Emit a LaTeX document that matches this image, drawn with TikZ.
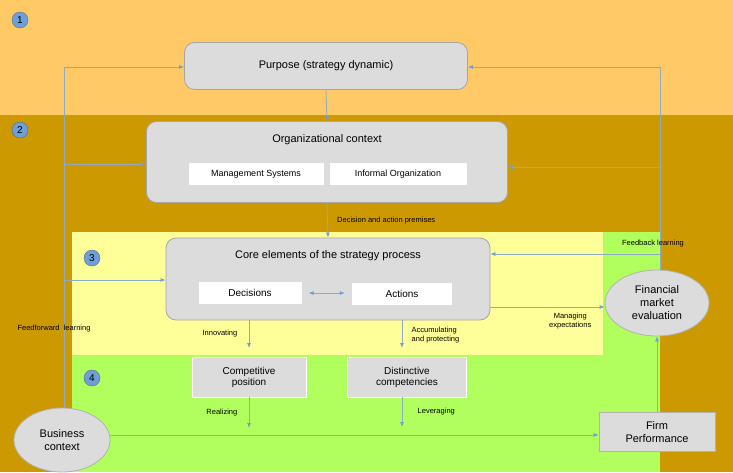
\documentclass[tikz,border=0pt]{standalone}
\usepackage{fontspec}
\setmainfont{Liberation Sans}
\usetikzlibrary{positioning, arrows.meta, shapes.geometric, calc}
\definecolor{bandone}{HTML}{FFCA66}
\definecolor{bandtwo}{HTML}{CC9900}
\definecolor{paleyellow}{HTML}{FFFF99}
\definecolor{lightgreen}{HTML}{B0FF5C}
\definecolor{boxgray}{HTML}{DCDCDC}
\definecolor{linkblue}{HTML}{8FAAC4}
\definecolor{tipblue}{HTML}{6F9FD8}
\begin{document}
\begin{tikzpicture}[x=1pt, y=-1pt,
    link/.style={draw=linkblue, line width=0.8pt, -{Latex[length=5pt, width=4pt, color=tipblue]}},
    plain/.style={draw=linkblue, line width=0.8pt},
    main/.style={draw=gray!70, fill=boxgray, rounded corners=10pt, line width=0.8pt},
    inner/.style={fill=white, minimum height=22pt, font=\fontsize{9}{10}\selectfont},
    flat/.style={fill=boxgray, draw=white, line width=0.8pt, align=center, font=\fontsize{10}{11}\selectfont},
    oval/.style={ellipse, draw=gray!60, fill=boxgray, line width=0.8pt, align=center, font=\fontsize{11}{13}\selectfont},
    lbl/.style={font=\fontsize{7.5}{9}\selectfont, align=left},
    num/.style={circle, inner sep=0pt, minimum size=16pt, fill=tipblue, draw=tipblue!70!black, font=\fontsize{10}{10}\selectfont}
]
    \useasboundingbox (0,0) rectangle (733,472);
    % Bands
    \fill[bandone] (0,0) rectangle (733,115);
    \fill[bandtwo] (0,115) rectangle (733,472);
    \fill[paleyellow] (72,232) rectangle (603,355);
    \fill[lightgreen] (603,232) rectangle (660,355);
    \fill[lightgreen] (72,355) rectangle (660,472);

    % Numbers
    \node[num] (n1) at (20,20) {1};
    \node[num] (n2) at (20,130) {2};
    \node[num] (n3) at (92,258) {3};
    \node[num] (n4) at (92,378) {4};

    % Boxes
    \node[main, minimum width=283pt, minimum height=47pt, font=\fontsize{11}{13}\selectfont] (purpose) at (326,66) {Purpose (strategy dynamic)};
    \node[main, minimum width=361pt, minimum height=81pt] (org) at (327,162) {};
    \node[font=\fontsize{11}{13}\selectfont] at (327,140) {Organizational context};
    \node[inner, minimum width=135pt] (mgmt) at (256,174) {Management Systems};
    \node[inner, minimum width=137pt] (informal) at (398,174) {Informal Organization};

    \node[main, minimum width=324pt, minimum height=82pt] (core) at (328,279) {};
    \node[font=\fontsize{11}{13}\selectfont] at (328,256) {Core elements of the strategy process};
    \node[inner, minimum width=103pt, font=\fontsize{10}{11}\selectfont] (decisions) at (250,293) {Decisions};
    \node[inner, minimum width=100pt, font=\fontsize{10}{11}\selectfont] (actions) at (402,294) {Actions};

    \node[flat, minimum width=114pt, minimum height=40pt] (competitive) at (249,377) {Competitive\\position};
    \node[flat, minimum width=119pt, minimum height=40pt] (distinctive) at (407,377) {Distinctive\\competencies};
    \node[flat, draw=gray!60, minimum width=116pt, minimum height=39pt, font=\fontsize{11}{13}\selectfont] (firm) at (657,432) {Firm\\Performance};

    \node[oval, minimum width=104pt, minimum height=66pt] (market) at (657,303) {Financial\\market\\evaluation};
    \node[oval, minimum width=96pt, minimum height=64pt] (business) at (62,440) {Business\\context};

    % Top-down links
    \draw[link] (purpose.south) -- (org.north);
    \draw[link] (org.south) -- (core.north) node[lbl, midway, right=6pt] {Decision and action premises};
    \draw[link, {Latex[length=5pt, width=4pt, color=tipblue]}-{Latex[length=5pt, width=4pt, color=tipblue]}] ($(decisions.east)+(7,0)$) -- ($(actions.west)+(-7,-1)$);
    \draw[link] (249,320) -- (249,348) node[lbl, pos=0.5, left=8pt] {Innovating};
    \draw[link] (402,320) -- (402,348) node[lbl, pos=0.55, right=6pt] {Accumulating\\and protecting};
    \draw[link] (competitive.south) -- (249,428) node[lbl, midway, left=8pt] {Realizing};
    \draw[link] (402,397) -- (402,427) node[lbl, midway, right=12pt] {Leveraging};
    \draw[link] (490,307) -- (market.west |- 0,307) node[lbl, pos=0.7, below=2pt, align=center] {Managing\\expectations};
    \draw[link] (business.east |- 0,435) -- (firm.west |- 0,435);
    \draw[link] (firm.north) -- (market.south);

    % Feedforward learning
    \coordinate (ffTop) at (64,67);
    \draw[plain] (business.north -| 64,0) -- (ffTop);
    \draw[link] (ffTop) -- (purpose.west |- 0,67);
    \draw[link] (64,164) -- (org.west |- 0,164);
    \draw[link] (64,280) -- (core.west |- 0,280);
    \node[lbl] at (54,329) {Feedforward\ \ learning};

    % Feedback learning
    \coordinate (fbTop) at (660,67);
    \draw[plain] (market.north -| 660,0) -- (fbTop);
    \draw[link] (fbTop) -- (purpose.east |- 0,67);
    \draw[link] (660,167) -- (org.east |- 0,167);
    \draw[link] (660,254) -- (core.east |- 0,254);
    \node[lbl] at (653,244) {Feedback learning};
\end{tikzpicture}
\end{document}
